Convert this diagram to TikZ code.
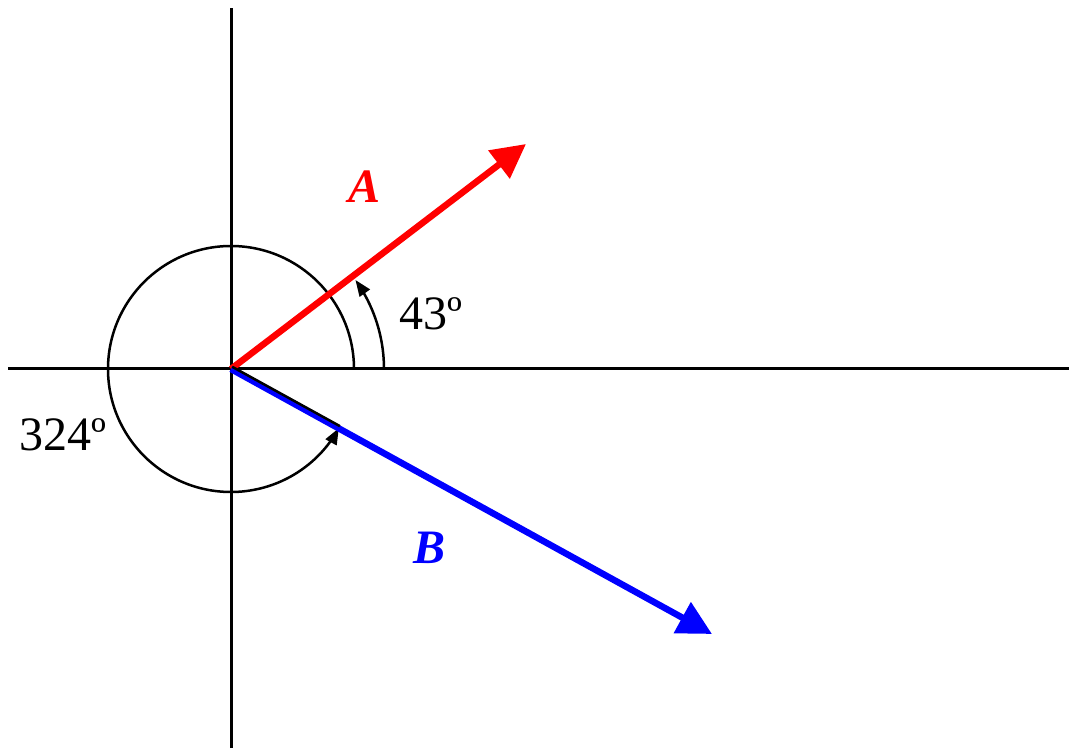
\documentclass[tikz,border=0pt]{standalone}
\usepackage{fontspec}
\setmainfont{Liberation Serif}
\usetikzlibrary{arrows.meta,calc}
\begin{document}
\begin{tikzpicture}[x=1pt,y=1pt,
  axis/.style={line width=3pt},
  vec/.style={line width=6.5pt,-{Triangle[length=34pt,width=34pt]}},
  arcline/.style={line width=2.5pt},
  lbl/.style={font=\fontsize{48}{52}\selectfont, inner sep=0pt},
  vlbl/.style={font=\fontsize{48}{52}\selectfont\bfseries\itshape, inner sep=0pt}]
\useasboundingbox (0,0) rectangle (1069,748);
\coordinate (O) at (231,379);
\coordinate (xl) at (8,379);
\coordinate (xr) at (1069,379);
\coordinate (yt) at (231,740);
\coordinate (yb) at (231,0);
\coordinate (Atip) at (526,604);
\coordinate (Btip) at (712,114);
\coordinate (P1) at ($(O)+(331.15:123)$);
\coordinate (P2) at ($(O)+(35.5:153)$);
% axes
\draw[axis] (xl) -- (xr);
\draw[axis] (yb) -- (yt);
% circle arc 324
\draw[arcline] (O) ++(0:123) arc[start angle=0,end angle=325,radius=123];
\fill (P1) -- ($(P1)+(241.15:16)+(151.15:6.5)$) -- ($(P1)+(241.15:16)+(331.15:6.5)$) -- cycle;
% 43 arc
\draw[arcline] (O) ++(0:153) arc[start angle=0,end angle=30.5,radius=153];
\fill (P2) -- ($(P2)+(305.5:16)+(35.5:6.5)$) -- ($(P2)+(305.5:16)+(215.5:6.5)$) -- cycle;
% vectors
\draw[vec,red] (O) -- (Atip);
\draw[vec,blue] (O) -- (Btip);
% thin black line along B
\draw[line width=2.5pt] ($(O)+(1.2,2.2)$) -- ($(P1)+(1.2,2.2)$);
% labels
\node[lbl] (l43) at (431,434) {43º};
\node[lbl] (l324) at (63,313) {324º};
\node[vlbl,red] (lA) at (365,561) {A};
\node[vlbl,blue] (lB) at (430,200) {B};
\end{tikzpicture}
\end{document}
